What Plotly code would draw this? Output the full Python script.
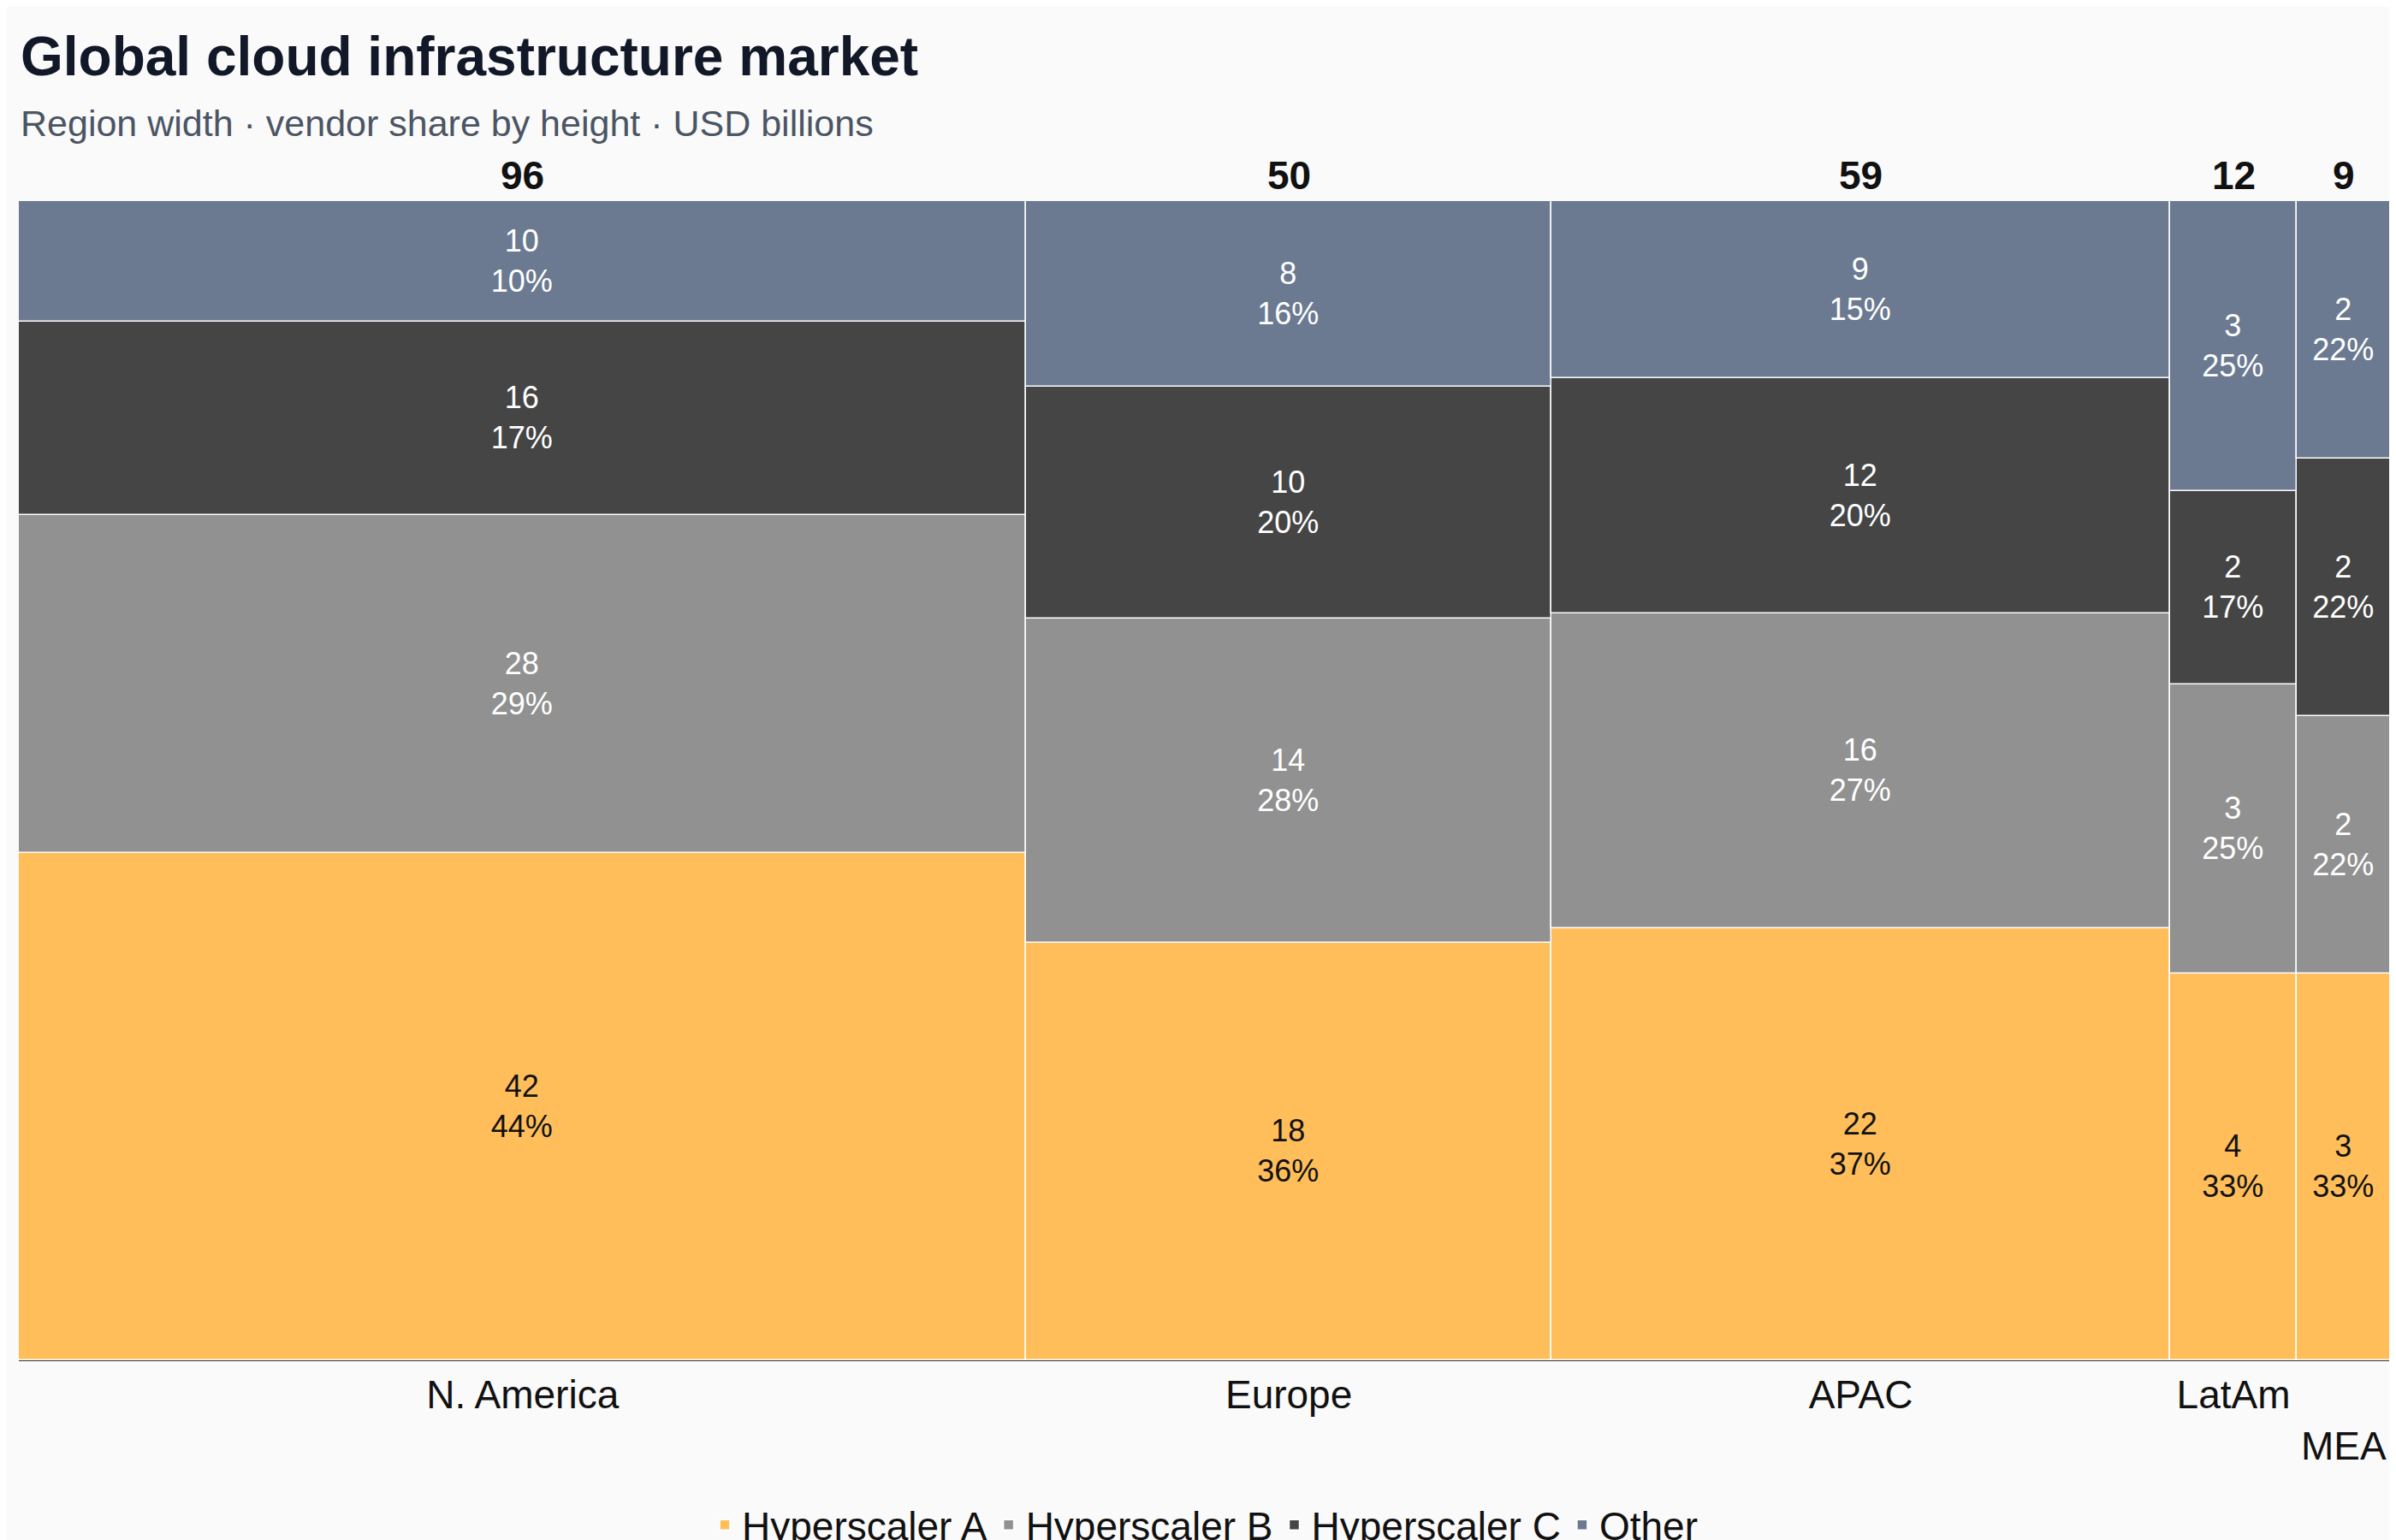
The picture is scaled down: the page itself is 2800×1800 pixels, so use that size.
import plotly.graph_objects as go

regions = ["N. America", "Europe", "APAC", "LatAm", "MEA"]
vendors = ["Hyperscaler A", "Hyperscaler B", "Hyperscaler C", "Other"]
values = {
    "Hyperscaler A": [42, 18, 22, 4, 3],
    "Hyperscaler B": [28, 14, 16, 3, 2],
    "Hyperscaler C": [16, 10, 12, 2, 2],
    "Other": [10, 8, 9, 3, 2],
}
colors = {"Hyperscaler A": "#FFBE5A", "Hyperscaler B": "#919191",
          "Hyperscaler C": "#454545", "Other": "#6B7A91"}
textcol = {"Hyperscaler A": "#111111", "Hyperscaler B": "white",
           "Hyperscaler C": "white", "Other": "white"}

totals = [sum(values[v][i] for v in vendors) for i in range(len(regions))]
lefts = []
acc = 0
for t in totals:
    lefts.append(acc)
    acc += t
centers = [l + t / 2 for l, t in zip(lefts, totals)]
grand = acc

fig = go.Figure()
base = [0.0] * len(regions)
for v in vendors:
    shares = [values[v][i] / totals[i] * 100 for i in range(len(regions))]
    txt = [f"{values[v][i]}<br>{round(shares[i])}%" for i in range(len(regions))]
    fig.add_trace(go.Bar(
        x=centers, y=shares, base=base[:], width=totals, name=v,
        marker=dict(color=colors[v], line=dict(color="white", width=1.5)),
        text=txt, textposition="inside", insidetextanchor="middle",
        textfont=dict(size=36, color=textcol[v]), constraintext="none",
        hoverinfo="skip"))
    base = [b + s for b, s in zip(base, shares)]

for c, t in zip(centers, totals):
    fig.add_annotation(x=c, y=100, text=f"<b>{t}</b>", showarrow=False,
                       yanchor="bottom", yshift=2, font=dict(size=46, color="#111"))

fig.add_annotation(xref="paper", yref="paper", x=0, y=1.125, xanchor="left", yanchor="middle",
                   text="<b>Global cloud infrastructure market</b>", showarrow=False,
                   font=dict(size=64, color="#111827"))
fig.add_annotation(xref="paper", yref="paper", x=0, y=1.067, xanchor="left", yanchor="middle",
                   text="Region width · vendor share by height · USD billions", showarrow=False,
                   font=dict(size=43, color="#4B5563"))

ticktext = regions[:-1] + ["<br>MEA"]
fig.update_layout(
    width=2800, height=1800, paper_bgcolor="#FAFAFA", plot_bgcolor="#FAFAFA",
    font=dict(family="Liberation Sans, Arial, sans-serif", color="#111"),
    margin=dict(l=14, r=14, t=227, b=218, autoexpand=False),
    barmode="overlay", bargap=0,
    xaxis=dict(range=[0, grand], tickvals=centers, ticktext=ticktext, showgrid=False,
               zeroline=False, showline=True, linecolor="#333", tickfont=dict(size=46), ticks=""),
    yaxis=dict(range=[0, 100], visible=False),
    legend=dict(orientation="h", x=0.5, xanchor="center", y=-0.115, yanchor="top",
                font=dict(size=46), traceorder="normal"),
)
fig.write_html("out.html")
